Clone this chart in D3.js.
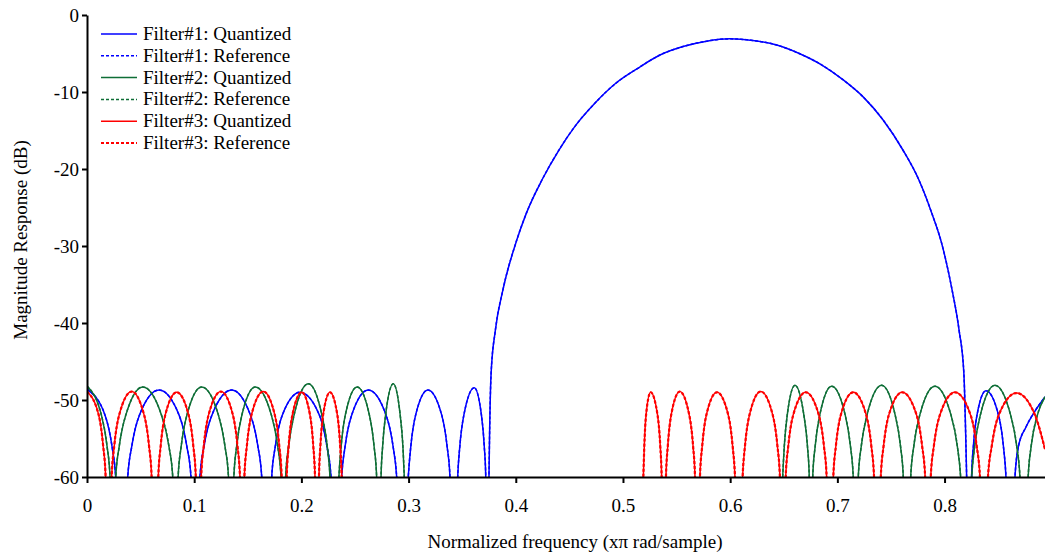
<!DOCTYPE html>
<html>
<head>
<meta charset="utf-8">
<script src="https://cdn.jsdelivr.net/npm/d3@7/dist/d3.min.js"></script>
<style>
  html, body { margin: 0; padding: 0; background: #fff; }
  svg { display: block; }
  text { font-family: "Liberation Serif", "Times New Roman", serif; fill: #000; }
</style>
</head>
<body>
<svg id="chart" width="1045" height="554"></svg>
<script>
"use strict";

// x: normalized frequency (x pi rad/sample), y: magnitude (dB)
// points below -60 are the deep nulls, they get clipped by the plot area
var filter1Quantized = [
  [0, -48.6], [0.0169, -52], [0.0233, -56], [0.0268, -60], [0.0324, -80],
  [0.038, -60], [0.0418, -56], [0.0488, -52], [0.0672, -48.7], [0.086, -52], [0.0931, -56], [0.097, -60], [0.1012, -80],
  [0.1054, -60], [0.1092, -56], [0.1164, -52], [0.135, -48.7], [0.1526, -52], [0.1594, -56], [0.163, -60], [0.1677, -80],
  [0.1723, -60], [0.1757, -56], [0.1821, -52], [0.1987, -49], [0.2169, -52], [0.2238, -56], [0.2276, -60], [0.2326, -80],
  [0.2376, -60], [0.2408, -56], [0.2468, -52], [0.2624, -48.7], [0.2791, -52], [0.2855, -56], [0.2889, -60], [0.2943, -80],
  [0.2997, -60], [0.3021, -56], [0.3065, -52], [0.318, -48.7], [0.331, -52], [0.3359, -56], [0.3386, -60], [0.3422, -80],
  [0.3458, -60], [0.3478, -56], [0.3515, -52], [0.3613, -48.4], [0.368, -52], [0.3706, -56], [0.372, -60], [0.3735, -80],
  [0.375, -60], [0.3755, -55], [0.377, -46.5], [0.381, -40.9], [0.388, -35.7], [0.401, -29.2], [0.41, -25.7],
  [0.4245, -21.4], [0.44, -17.6], [0.455, -14.5], [0.4735, -11.5], [0.493, -8.9], [0.5135, -6.95], [0.5345, -5.2],
  [0.556, -4.1], [0.578, -3.4], [0.5994, -3.1], [0.621, -3.3], [0.6434, -3.9], [0.6644, -5.0], [0.6856, -6.5],
  [0.7052, -8.4], [0.7245, -10.7], [0.7425, -13.6], [0.761, -17.5], [0.776, -21.4], [0.788, -25.7], [0.797, -29.5],
  [0.807, -35.7], [0.8135, -40.9], [0.818, -46.5], [0.8198, -55], [0.8206, -60], [0.8229, -80],
  [0.8252, -60], [0.8269, -56], [0.8302, -52], [0.8386, -48.8], [0.8504, -52], [0.8549, -56], [0.8573, -60], [0.8615, -80],
  [0.8657, -60], [0.869, -56], [0.876, -53.5], [0.885, -51.3], [0.8937, -49.6]
];

var filter2Quantized = [
  [0, -48.2], [0.0135, -52], [0.0187, -56], [0.0215, -60], [0.0242, -80],
  [0.0268, -60], [0.0301, -56], [0.0361, -52], [0.052, -48.3], [0.0696, -52], [0.0764, -56], [0.08, -60], [0.0825, -80],
  [0.085, -60], [0.0879, -56], [0.0931, -52], [0.107, -48.3], [0.1227, -52], [0.1287, -56], [0.132, -60], [0.1345, -80],
  [0.137, -60], [0.1396, -56], [0.1444, -52], [0.157, -48.3], [0.1721, -52], [0.1779, -56], [0.181, -60], [0.1832, -80],
  [0.1853, -60], [0.1881, -56], [0.1931, -52], [0.2065, -47.9], [0.2192, -52], [0.2241, -56], [0.2267, -60], [0.2308, -80],
  [0.235, -60], [0.2371, -56], [0.2409, -52], [0.252, -48.3], [0.2635, -52], [0.2678, -56], [0.2702, -60], [0.2722, -80],
  [0.2743, -60], [0.2758, -56], [0.2785, -52], [0.2857, -47.9], [0.2922, -52], [0.2947, -56], [0.296, -60], [0.3, -80],
  [0.645, -80],
  [0.649, -60], [0.6505, -56], [0.6532, -52], [0.6604, -48.1], [0.6688, -52], [0.6721, -56], [0.6738, -60], [0.6754, -80],
  [0.677, -60], [0.6793, -56], [0.6835, -52], [0.6947, -48.2], [0.7074, -52], [0.7122, -56], [0.7148, -60], [0.7172, -80],
  [0.7195, -60], [0.7223, -56], [0.7276, -52], [0.7413, -48.1], [0.754, -52], [0.7589, -56], [0.7615, -60], [0.765, -80],
  [0.7684, -60], [0.7713, -56], [0.7768, -52], [0.791, -48.2], [0.8061, -52], [0.8119, -56], [0.815, -60], [0.8202, -80],
  [0.8253, -60], [0.8281, -56], [0.8333, -52], [0.847, -48.1], [0.8617, -52], [0.8673, -56], [0.8703, -60], [0.8742, -80],
  [0.878, -60], [0.8808, -56], [0.8865, -52], [0.8937, -49.6]
];

var filter3Quantized = [
  [0, -48.9], [0.011, -52], [0.0151, -56], [0.0174, -60], [0.0202, -80],
  [0.023, -60], [0.0254, -56], [0.0299, -52], [0.0417, -48.9], [0.0534, -52], [0.0579, -56], [0.0603, -60], [0.0634, -80],
  [0.0665, -60], [0.0687, -56], [0.0729, -52], [0.0837, -49], [0.0949, -52], [0.0992, -56], [0.1015, -60], [0.104, -80],
  [0.1065, -60], [0.1089, -56], [0.1133, -52], [0.125, -48.9], [0.1362, -52], [0.1404, -56], [0.1427, -60], [0.1448, -80],
  [0.1468, -60], [0.1491, -56], [0.1533, -52], [0.1645, -48.9], [0.1753, -52], [0.1794, -56], [0.1816, -60], [0.184, -80],
  [0.1863, -60], [0.1881, -56], [0.1915, -52], [0.2003, -49], [0.2081, -52], [0.2111, -56], [0.2127, -60], [0.2146, -80],
  [0.2164, -60], [0.2177, -56], [0.2202, -52], [0.2267, -49], [0.2336, -52], [0.2362, -56], [0.2376, -60], [0.24, -80],
  [0.515, -80],
  [0.519, -60], [0.5199, -56], [0.5215, -52], [0.5258, -49], [0.5323, -52], [0.5348, -56], [0.5361, -60], [0.5381, -80],
  [0.5401, -60], [0.5418, -56], [0.5449, -52], [0.553, -48.9], [0.5619, -52], [0.5654, -56], [0.5672, -60], [0.5695, -80],
  [0.5718, -60], [0.5739, -56], [0.5777, -52], [0.5877, -49], [0.5983, -52], [0.6023, -56], [0.6045, -60], [0.608, -80],
  [0.6116, -60], [0.6138, -56], [0.6179, -52], [0.6285, -48.9], [0.6398, -52], [0.6441, -56], [0.6464, -60], [0.6491, -80],
  [0.6518, -60], [0.6542, -56], [0.6587, -52], [0.6705, -49], [0.6828, -52], [0.6875, -56], [0.69, -60], [0.6931, -80],
  [0.6962, -60], [0.6986, -56], [0.7031, -52], [0.7148, -49], [0.727, -52], [0.7317, -56], [0.7342, -60], [0.7374, -80],
  [0.7405, -60], [0.7431, -56], [0.7479, -52], [0.7605, -49], [0.774, -52], [0.7791, -56], [0.7819, -60], [0.7845, -80],
  [0.7871, -60], [0.79, -56], [0.7955, -52], [0.8097, -49], [0.8244, -52], [0.83, -56], [0.833, -60], [0.8368, -80],
  [0.8405, -60], [0.844, -56], [0.8504, -52], [0.8672, -49.1], [0.8845, -52], [0.8937, -56.4]
];

// reference (unquantized) responses sit on top of the quantized ones
var filter1Reference = filter1Quantized;
var filter2Reference = filter2Quantized;
var filter3Reference = filter3Quantized;

var xTicks = [0, 0.1, 0.2, 0.3, 0.4, 0.5, 0.6, 0.7, 0.8];
var yTicks = [-60, -50, -40, -30, -20, -10, 0];
var seriesNames = ["Filter#1: Quantized", "Filter#1: Reference", "Filter#2: Quantized",
                   "Filter#2: Reference", "Filter#3: Quantized", "Filter#3: Reference"];

var series = [
  { name: seriesNames[0], data: filter1Quantized, color: "#0000ff", dash: null, width: 1.5 },
  { name: seriesNames[1], data: filter1Reference, color: "#0000ff", dash: "3,2", width: 1.5 },
  { name: seriesNames[2], data: filter2Quantized, color: "#0e6e36", dash: null, width: 1.5 },
  { name: seriesNames[3], data: filter2Reference, color: "#0e6e36", dash: "3,2", width: 1.5 },
  { name: seriesNames[4], data: filter3Quantized, color: "#ff0000", dash: null, width: 1.5 },
  { name: seriesNames[5], data: filter3Reference, color: "#ff0000", dash: "3,2", width: 2.2 }
];

var plotLeft = 87, plotRight = 1045, plotTop = 15, plotBottom = 477;

var svg = d3.select("#chart");
svg.append("rect").attr("width", 1045).attr("height", 554).attr("fill", "#fff");

var x = d3.scaleLinear().domain([0, 0.8937]).range([plotLeft, plotRight]);
var y = d3.scaleLinear().domain([-60, 0]).range([plotBottom, plotTop]);

svg.append("clipPath").attr("id", "plotClip")
  .append("rect")
  .attr("x", plotLeft).attr("y", plotTop)
  .attr("width", plotRight - plotLeft).attr("height", plotBottom - plotTop);

var line = d3.line()
  .x(function(d) { return x(d[0]); })
  .y(function(d) { return y(d[1]); })
  .curve(d3.curveMonotoneX);

var plot = svg.append("g").attr("clip-path", "url(#plotClip)");
series.forEach(function(s) {
  plot.append("path")
    .datum(s.data)
    .attr("d", line)
    .attr("fill", "none")
    .attr("stroke", s.color)
    .attr("stroke-width", s.width)
    .attr("stroke-dasharray", s.dash)
    .attr("stroke-linejoin", "round");
});

// axes
var xAxis = svg.append("g")
  .attr("transform", "translate(0," + plotBottom + ")")
  .call(d3.axisBottom(x).tickValues(xTicks).tickSize(6).tickSizeOuter(0).tickPadding(16)
    .tickFormat(function(d) { return d === 0 ? "0" : d.toFixed(1); }));

var yAxis = svg.append("g")
  .attr("transform", "translate(" + plotLeft + ",0)")
  .call(d3.axisLeft(y).tickValues(yTicks).tickSize(5).tickSizeOuter(0).tickPadding(3)
    .tickFormat(function(d) { return String(d); }));

[xAxis, yAxis].forEach(function(g) {
  g.select(".domain").attr("stroke", "#000").attr("stroke-width", 2);
  g.selectAll(".tick line").attr("stroke", "#000").attr("stroke-width", 2);
  g.selectAll(".tick text")
    .attr("fill", "#000")
    .style("font-family", "'Liberation Serif', 'Times New Roman', serif")
    .style("font-size", "19px");
});

svg.append("text")
  .attr("x", 575).attr("y", 548)
  .attr("text-anchor", "middle")
  .style("font-size", "19px")
  .text("Normalized frequency (x\u03c0 rad/sample)");

svg.append("text")
  .attr("transform", "translate(27,240) rotate(-90)")
  .attr("text-anchor", "middle")
  .style("font-size", "19px")
  .text("Magnitude Response (dB)");

// legend
var legend = svg.append("g").attr("transform", "translate(101,34)");
series.forEach(function(s, i) {
  var row = legend.append("g").attr("transform", "translate(0," + (i * 21.8) + ")");
  row.append("line")
    .attr("x1", 0).attr("x2", 36).attr("y1", 0).attr("y2", 0)
    .attr("stroke", s.color)
    .attr("stroke-width", s.width)
    .attr("stroke-dasharray", s.dash);
  row.append("text")
    .attr("x", 42).attr("y", 6)
    .style("font-size", "19px")
    .text(s.name);
});
</script>
</body>
</html>
